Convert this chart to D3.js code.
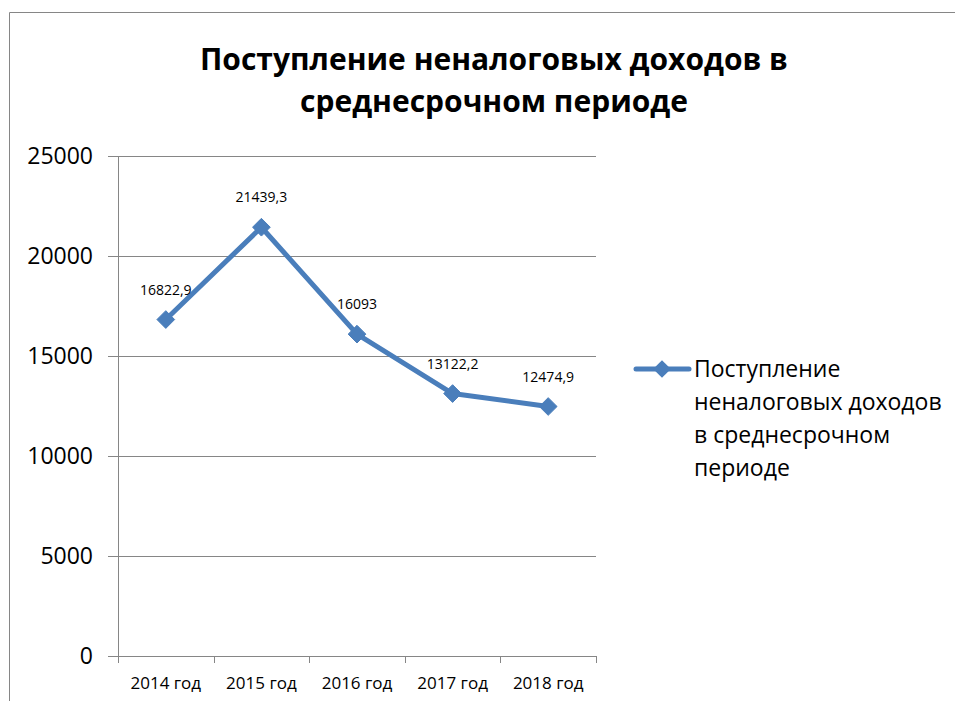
<!DOCTYPE html>
<html>
<head>
<meta charset="utf-8">
<script src="https://cdnjs.cloudflare.com/ajax/libs/d3/7.8.5/d3.min.js"></script>
<style>
body { margin: 0; background: #fff; }
text { font-family: "Open Sans", "Noto Sans", sans-serif; fill: #000; }
</style>
</head>
<body>
<script>
// data
var years = ['2014 год', '2015 год', '2016 год', '2017 год', '2018 год']
var values = [16822.9, 21439.3, 16093, 13122.2, 12474.9]
var valueLabels = ['16822,9', '21439,3', '16093', '13122,2', '12474,9']
var yTicks = [0, 5000, 10000, 15000, 20000, 25000]
var titleLines = ['Поступление неналоговых доходов в', 'среднесрочном периоде']
var legendLines = ['Поступление', 'неналоговых доходов', 'в среднесрочном', 'периоде']

var blue = '#4a7ebb'
var grey = '#868686'

var svg = d3.select('body').append('svg')
	.attr('width', 955)
	.attr('height', 701)

//frame
svg.append('path')
	.attr('d', 'M9.5,701 L9.5,12.5 L955,12.5')
	.attr('fill', 'none')
	.attr('stroke', grey)
	.attr('stroke-width', 1)

//title
svg.append('g').selectAll('text')
	.data(titleLines)
	.enter().append('text')
	.attr('x', 494)
	.attr('y', function(d, i){ return 70 + i * 42 })
	.attr('text-anchor', 'middle')
	.style('font-size', '30px')
	.style('font-weight', 'bold')
	.text(function(d){ return d })

//scales
var x = d3.scaleBand().domain(years).range([118, 596]).padding(0)
var y = d3.scaleLinear().domain([0, 25000]).range([656, 156])

//grid + y axis
var yAxis = svg.append('g')
	.attr('transform', 'translate(118,0)')
	.call(d3.axisLeft(y).tickValues(yTicks).tickSize(10).tickFormat(d3.format('d')))
yAxis.select('.domain').remove()
yAxis.selectAll('.tick line')
	.attr('x1', -10)
	.attr('x2', 478)
	.attr('stroke', grey)
yAxis.selectAll('.tick text')
	.attr('x', -25)
	.style('font-size', '23px')
	.style('font-family', '"Open Sans", sans-serif')
	.attr('fill', '#000')

//vertical axis line
svg.append('line')
	.attr('x1', 118.5).attr('x2', 118.5)
	.attr('y1', 156).attr('y2', 656)
	.attr('stroke', grey)

//x axis
var boundaries = years.map(function(d){ return x(d) }).concat([x.range()[1]])
var xAxis = svg.append('g')
xAxis.append('line')
	.attr('x1', 118).attr('x2', 596)
	.attr('y1', 656.5).attr('y2', 656.5)
	.attr('stroke', grey)
xAxis.selectAll('.xt')
	.data(boundaries)
	.enter().append('line')
	.attr('x1', function(d){ return Math.round(d) + 0.5 })
	.attr('x2', function(d){ return Math.round(d) + 0.5 })
	.attr('y1', 656).attr('y2', 663)
	.attr('stroke', grey)
xAxis.selectAll('text')
	.data(years)
	.enter().append('text')
	.attr('x', function(d){ return x(d) + x.bandwidth() / 2 })
	.attr('y', 689)
	.attr('text-anchor', 'middle')
	.style('font-size', '17px')
	.text(function(d){ return d })

//line
var cx = function(d, i){ return x(years[i]) + x.bandwidth() / 2 }
var line = d3.line()
	.x(cx)
	.y(function(d){ return y(d) })

svg.append('path')
	.datum(values)
	.attr('d', line)
	.attr('fill', 'none')
	.attr('stroke', blue)
	.attr('stroke-width', 5)
	.attr('stroke-linejoin', 'round')

var diamond = d3.symbol().type(d3.symbolDiamond2).size(200)

svg.append('g').selectAll('path')
	.data(values)
	.enter().append('path')
	.attr('d', diamond)
	.attr('transform', function(d, i){ return 'translate(' + cx(d, i) + ',' + y(d) + ')' })
	.attr('fill', blue)
	.attr('stroke', blue)

//value labels
svg.append('g').selectAll('text')
	.data(values)
	.enter().append('text')
	.attr('x', cx)
	.attr('y', function(d){ return y(d) - 25 })
	.attr('text-anchor', 'middle')
	.style('font-size', '14px')
	.text(function(d, i){ return valueLabels[i] })

//legend
var legend = svg.append('g')
legend.append('line')
	.attr('x1', 636).attr('x2', 689)
	.attr('y1', 369).attr('y2', 369)
	.attr('stroke', blue)
	.attr('stroke-width', 5)
	.attr('stroke-linecap', 'round')
legend.append('path')
	.attr('d', diamond)
	.attr('transform', 'translate(662,369)')
	.attr('fill', blue)
legend.selectAll('text')
	.data(legendLines)
	.enter().append('text')
	.attr('x', 694)
	.attr('y', function(d, i){ return 377 + i * 33 })
	.style('font-size', '23px')
	.text(function(d){ return d })
</script>
</body>
</html>
